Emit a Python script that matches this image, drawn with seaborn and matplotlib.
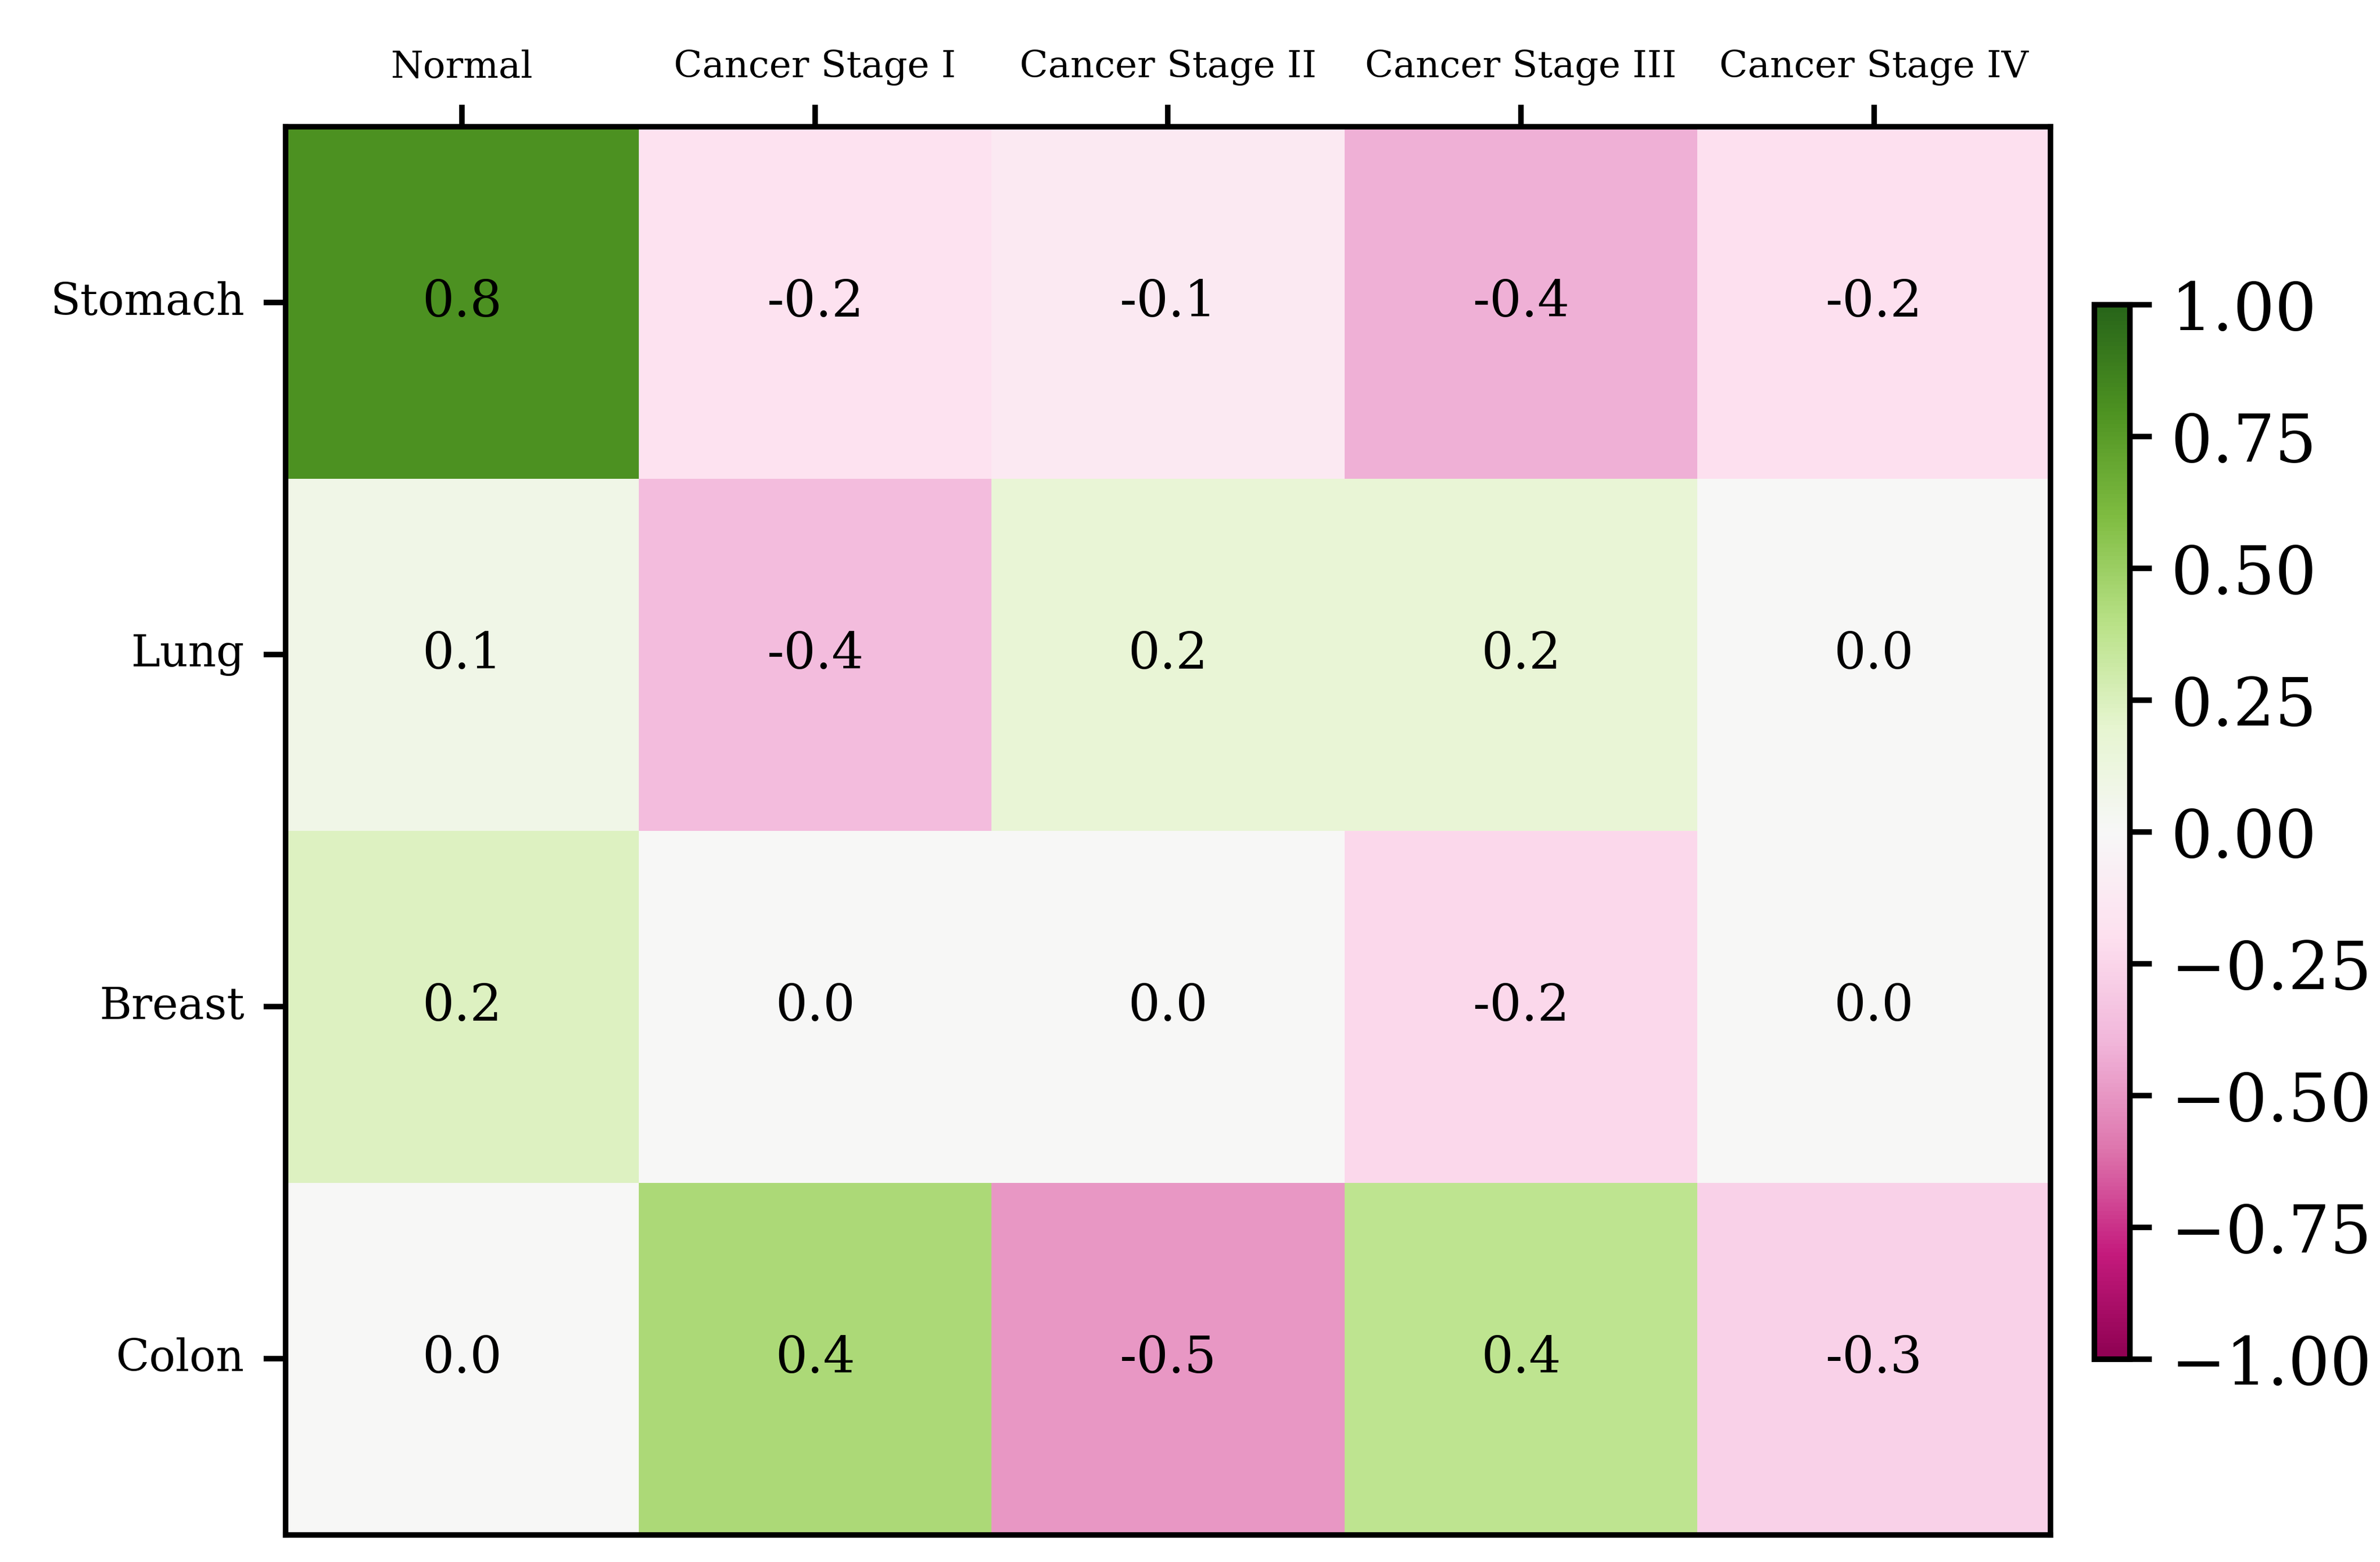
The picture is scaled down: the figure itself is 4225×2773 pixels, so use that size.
import numpy as np
import pandas as pd
import matplotlib
matplotlib.use("Agg")
import matplotlib.pyplot as plt
import seaborn as sns

tissues = ["Stomach", "Lung", "Breast", "Colon"]
stages = ["Normal", "Cancer Stage I", "Cancer Stage II", "Cancer Stage III", "Cancer Stage IV"]
stomach = [0.80, -0.18, -0.12, -0.42, -0.20]
lung = [0.08, -0.37, 0.17, 0.17, 0.0]
breast = [0.24, 0.0, 0.0, -0.24, 0.0]
colon = [0.0, 0.44, -0.50, 0.37, -0.27]

plt.rcParams['font.family'] = 'DejaVu Serif'

df = pd.DataFrame([stomach, lung, breast, colon], index=tissues, columns=stages)

fig = plt.figure(figsize=(4225 / 700, 2773 / 700), dpi=700)
ax = fig.add_axes([0.120, 0.0173, 0.7415, 0.9017])
cax = fig.add_axes([0.880, 0.1298, 0.0149, 0.6752])

sns.heatmap(df, ax=ax, cbar_ax=cax, cmap="PiYG", vmin=-1, vmax=1,
            annot=True, fmt=".1f", annot_kws={"color": "black", "fontsize": 9.2})

for s in ax.spines.values():
    s.set_visible(True)
    s.set_linewidth(1.0)
    s.set_color("black")

ax.xaxis.tick_top()
ax.tick_params(axis="x", labelsize=6.8, length=4, width=1, rotation=0)
ax.tick_params(axis="y", labelsize=8, length=4, width=1, rotation=0)
ax.set_xlabel("")
ax.set_ylabel("")

cax.tick_params(labelsize=12, length=4, width=1)
cax.set_yticks([-1, -0.75, -0.5, -0.25, 0, 0.25, 0.5, 0.75, 1])
cax.set_yticklabels(["\u22121.00", "\u22120.75", "\u22120.50", "\u22120.25", "0.00", "0.25", "0.50", "0.75", "1.00"])
for s in cax.spines.values():
    s.set_visible(True)
    s.set_linewidth(1.0)
    s.set_color("black")

fig.savefig("out.png", dpi=700)
